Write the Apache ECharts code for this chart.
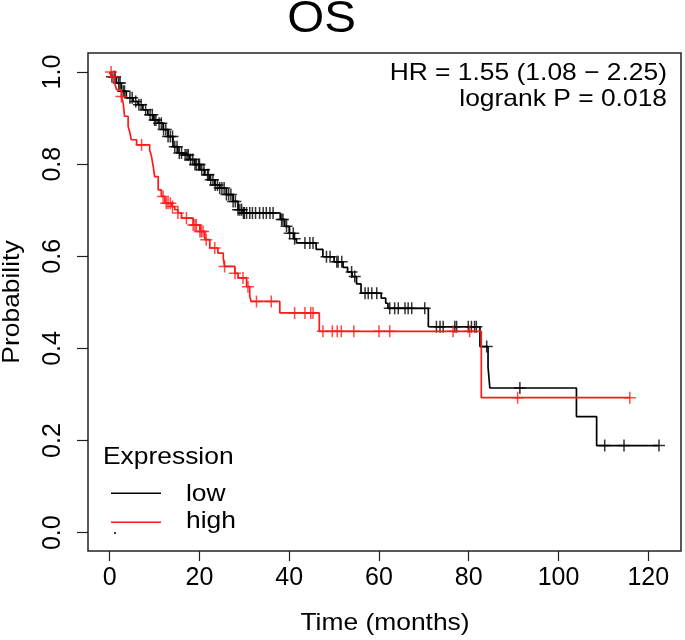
<!DOCTYPE html>
<html>
<head>
<meta charset="utf-8">
<script src="https://cdn.jsdelivr.net/npm/echarts@6/dist/echarts.min.js"></script>
<style>
html,body{margin:0;padding:0;background:#fff;}
#c{width:685px;height:640px;}
</style>
</head>
<body>
<div id="c"></div>
<script>
// ---- data ----
const xTicks = [0, 20, 40, 60, 80, 100, 120];
const yTicks = [0, 0.2, 0.4, 0.6, 0.8, 1.0];

// low expression (black): event times and survival after each event
const lowT = [0, 0.4, 1.5, 2.6, 3.7, 5.2, 6.3, 7.4, 8.5, 9.7, 10.8, 11.9, 13.0, 14.1, 15.2, 16.3, 17.8, 18.9, 20.1, 21.2, 22.3, 23.4, 24.5, 26.0, 27.5, 28.6, 29.7, 38.0, 39.0, 40.0, 41.0, 41.6, 46.0, 47.5, 50.0, 52.0, 53.0, 54.0, 55.0, 56.0, 60.5, 61.5, 62.0, 71.0, 82.5, 84.3, 84.7, 104.0, 108.5];
const lowS = [1.0, 0.99, 0.976, 0.958, 0.944, 0.936, 0.929, 0.918, 0.907, 0.896, 0.889, 0.875, 0.860, 0.838, 0.824, 0.820, 0.810, 0.799, 0.788, 0.777, 0.766, 0.755, 0.748, 0.734, 0.719, 0.701, 0.694, 0.680, 0.665, 0.650, 0.638, 0.629, 0.615, 0.599, 0.588, 0.576, 0.566, 0.556, 0.540, 0.520, 0.509, 0.498, 0.487, 0.447, 0.404, 0.360, 0.314, 0.252, 0.189];
const lowCensor = [0.5, 1.0, 1.2, 2.0, 2.3, 3.0, 3.3, 4.5, 5.0, 5.8, 6.5, 7.0, 8.0, 9.0, 9.5, 10.0, 10.3, 11.0, 11.5, 12.0, 12.5, 13.0, 13.5, 14.0, 14.5, 15.0, 15.5, 16.0, 16.8, 17.2, 17.5, 18.0, 18.5, 19.0, 19.3, 19.8, 20.0, 20.5, 21.0, 21.8, 22.0, 22.5, 23.0, 23.5, 24.0, 24.5, 25.0, 25.5, 26.0, 26.5, 27.0, 27.5, 28.0, 28.6, 29.0, 29.4, 29.8, 30.0, 30.5, 31.2, 31.8, 32.5, 33.4, 34.2, 34.9, 35.7, 36.4, 38.3, 38.6, 39.4, 40.1, 40.9, 41.2, 43.5, 44.6, 45.3, 48.3, 49.1, 50.6, 50.9, 51.7, 53.9, 54.6, 56.9, 57.6, 58.4, 59.5, 62.4, 63.5, 64.3, 65.8, 66.5, 67.3, 70.2, 72.8, 73.6, 74.3, 76.9, 77.3, 79.9, 80.6, 81.3, 81.7, 84.0, 91.4, 110.3, 114.6, 122.4];

// high expression (red)
const highT = [0, 0.4, 1.1, 1.5, 2.6, 3.0, 3.3, 4.1, 4.5, 4.8, 6.0, 8.9, 9.3, 9.7, 10.0, 10.8, 11.5, 12.3, 13.8, 14.5, 15.2, 16.0, 18.6, 20.1, 21.2, 22.3, 24.1, 25.3, 25.6, 27.9, 28.6, 30.5, 31.2, 31.5, 37.9, 46.7, 82.8];
const highS = [1.0, 0.99, 0.976, 0.962, 0.947, 0.933, 0.904, 0.882, 0.868, 0.853, 0.842, 0.831, 0.817, 0.795, 0.773, 0.744, 0.730, 0.715, 0.708, 0.701, 0.694, 0.683, 0.668, 0.654, 0.636, 0.618, 0.607, 0.596, 0.578, 0.563, 0.553, 0.534, 0.513, 0.502, 0.477, 0.437, 0.293];
const highCensor = [0.3, 1.0, 2.6, 7.1, 11.9, 12.6, 13.0, 13.5, 14.0, 15.2, 17.1, 18.6, 19.0, 19.3, 20.1, 20.4, 20.8, 21.5, 23.4, 25.6, 27.9, 29.7, 30.8, 32.7, 36.0, 41.2, 43.5, 44.8, 45.3, 47.5, 49.6, 50.7, 51.6, 54.4, 60.0, 62.4, 76.5, 80.2, 90.9, 115.9];

const titleText = 'OS';
const statLines = ['HR = 1.55 (1.08 \u2212 2.25)', 'logrank P = 0.018'];
const legendTitle = 'Expression';
const groupNames = ['low', 'high'];
const xName = 'Time (months)';
const yName = 'Probability';

// ---- helpers ----
function survAt(T, S, t) {
  let v = S[0];
  for (let i = 0; i < T.length; i++) { if (T[i] <= t) v = S[i]; else break; }
  return v;
}
function curve(T, S, censor) {
  const d = T.map((t, i) => [t, S[i]]);
  const last = Math.max.apply(null, censor);
  if (last > T[T.length - 1]) d.push([last, S[S.length - 1]]);
  return d;
}
function marks(T, S, censor) { return censor.map(t => [t, survAt(T, S, t)]); }

const FONT = "'Liberation Sans', Arial, Helvetica, sans-serif";
const RED = '#ff1a1a';
const PLUS = 'path://M5,0L5,10M0,5L10,5';
const SX = 1.1;

function txt(x, y, text, size, align, extra) {
  return Object.assign({type: 'text', x: x, y: y, scaleX: SX,
    style: {text: text, font: size + 'px ' + FONT, fill: '#000', align: align, verticalAlign: 'middle'}}, extra || {});
}

const chart = echarts.init(document.getElementById('c'), null, {renderer: 'canvas'});
chart.setOption({
  animation: false,
  backgroundColor: '#fff',
  grid: {left: 88, right: 4, top: 53, bottom: 89, show: true, borderColor: '#222', borderWidth: 1.5, backgroundColor: 'transparent'},
  xAxis: {
    type: 'value', min: -4.84, max: 127.3,
    axisLine: {show: false, onZero: false},
    splitLine: {show: false},
    axisTick: {show: true, inside: false, length: 10, customValues: xTicks, lineStyle: {color: '#222', width: 1.2}},
    axisLabel: {show: true, customValues: xTicks, margin: 15, fontSize: 25, color: '#000', fontFamily: FONT}
  },
  yAxis: {
    type: 'value', min: -0.0398, max: 1.0413,
    axisLine: {show: false, onZero: false},
    splitLine: {show: false},
    axisTick: {show: true, inside: false, length: 11, customValues: yTicks, lineStyle: {color: '#222', width: 1.2}},
    axisLabel: {show: true, customValues: yTicks, rotate: 90, margin: 22, fontSize: 25, color: '#000', fontFamily: FONT,
      formatter: v => v.toFixed(1)}
  },
  series: [
    {type: 'line', step: 'end', data: curve(lowT, lowS, lowCensor), showSymbol: false, symbol: 'none',
      lineStyle: {color: '#000', width: 1.7}, silent: true, z: 2},
    {type: 'scatter', data: marks(lowT, lowS, lowCensor), symbol: PLUS, symbolSize: 12,
      itemStyle: {color: 'rgba(0,0,0,0)', borderColor: '#000', borderWidth: 1.5}, silent: true, z: 3},
    {type: 'line', step: 'end', data: curve(highT, highS, highCensor), showSymbol: false, symbol: 'none',
      lineStyle: {color: RED, width: 1.7}, silent: true, z: 4},
    {type: 'scatter', data: marks(highT, highS, highCensor), symbol: PLUS, symbolSize: 12,
      itemStyle: {color: 'rgba(0,0,0,0)', borderColor: RED, borderWidth: 1.5}, silent: true, z: 5}
  ],
  graphic: [
    txt(321.5, 20, titleText, 44, 'center', {scaleX: 1.08}),
    txt(667, 73, statLines[0], 24, 'right'),
    txt(667, 99.7, statLines[1], 24, 'right'),
    txt(103, 457, legendTitle, 24, 'left'),
    {type: 'line', shape: {x1: 111, y1: 493.3, x2: 161, y2: 493.3}, style: {stroke: '#000', lineWidth: 1.5}},
    txt(186, 494.5, groupNames[0], 24, 'left'),
    {type: 'line', shape: {x1: 111, y1: 522.3, x2: 161, y2: 522.3}, style: {stroke: RED, lineWidth: 1.5}},
    txt(186, 521.5, groupNames[1], 24, 'left'),
    {type: 'circle', shape: {cx: 115, cy: 533, r: 1}, style: {fill: '#000'}},
    txt(385, 623, xName, 24, 'center'),
    txt(12, 302, yName, 24, 'center', {rotation: Math.PI / 2})
  ]
});
</script>
</body>
</html>
